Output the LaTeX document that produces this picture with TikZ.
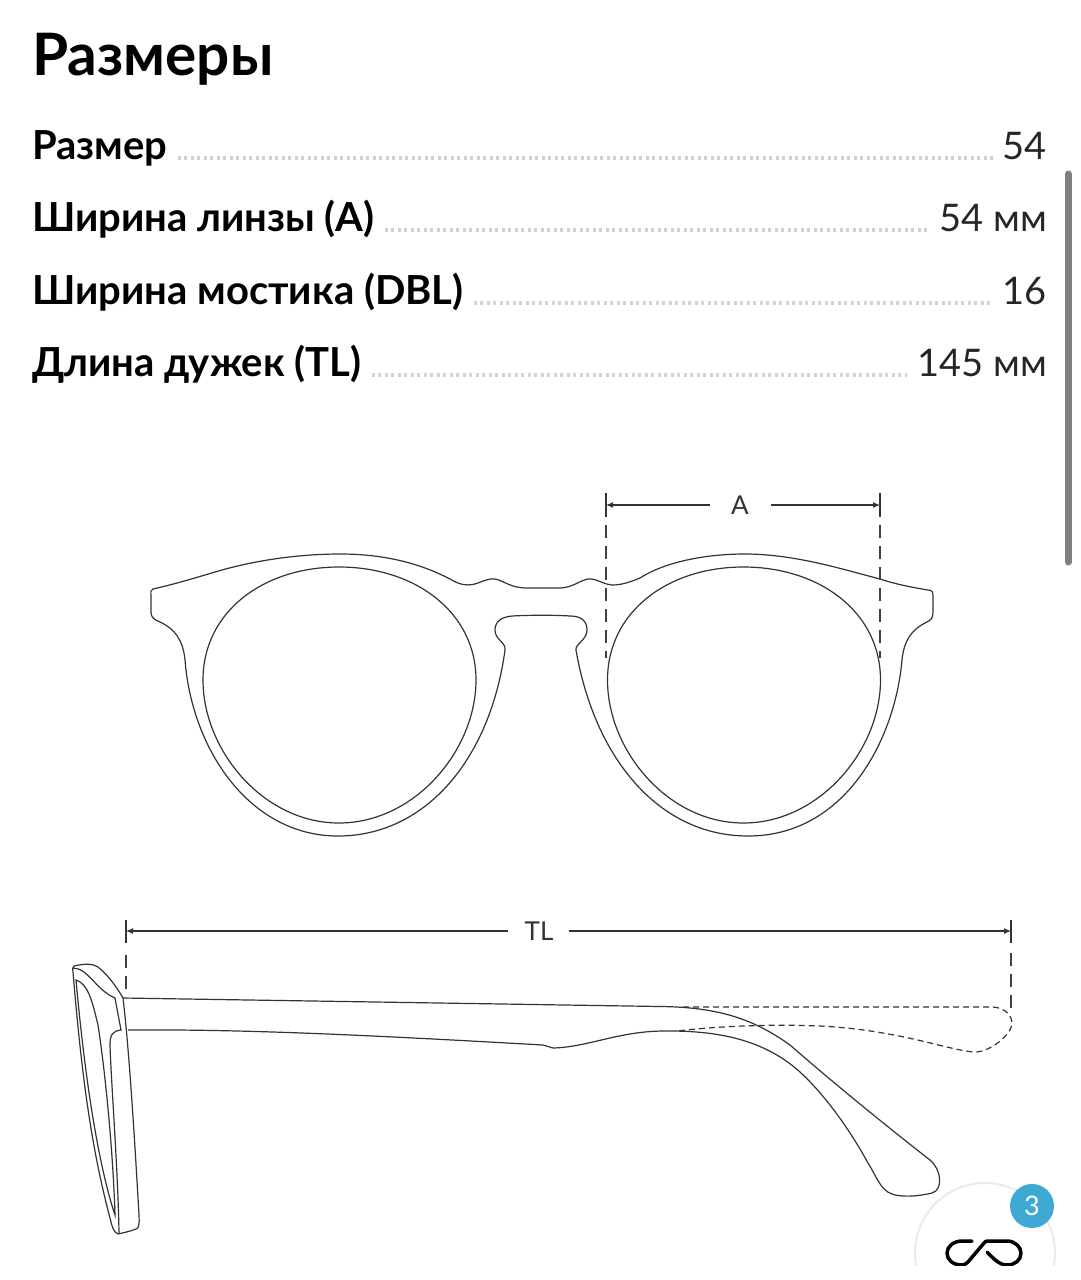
\documentclass[tikz,border=0pt]{standalone}
\usepackage{fontspec}
\setmainfont{Lato}
\newfontfamily\boldfont{Lato Bold}
\usetikzlibrary{arrows.meta}
\definecolor{badgeblue}{HTML}{3FA9D5}
\tikzset{
	outline/.style={draw=black!80,line width=1.2pt},
	dimline/.style={draw=black!80,line width=1.1pt},
	dimdash/.style={draw=black!75,line width=1.1pt,dash pattern=on 13pt off 8pt},
	dimarrow/.style={dimline,-{Latex[length=7pt,width=6pt]}},
	dimlabel/.style={font=\fontsize{26}{30}\selectfont,text=black!80,inner sep=0pt},
	rowkey/.style={anchor=base west,inner sep=0pt,font=\boldfont\fontsize{40}{46}\selectfont},
	rowval/.style={anchor=base east,inner sep=0pt,text=black!85,font=\fontsize{38}{44}\selectfont},
	leader/.style={draw=black!18,line width=3.5pt,dash pattern=on 3pt off 3.5pt}
}
\begin{document}
\begin{tikzpicture}[x=1pt,y=-1pt]
	\useasboundingbox (0,0) rectangle (1080,1280);
	\fill[white] (0,0) rectangle (1080,1280);
	% table
	\node[anchor=base west,inner sep=0pt,font=\boldfont\fontsize{58.5}{66}\selectfont] (title) at (32,75) {Размеры};
	\node[rowkey] (sizekey) at (32,159) {Размер};
	\node[rowval] (sizeval) at (1047,159) {54};
	\node[rowkey] (lenskey) at (32,231) {Ширина линзы (A)};
	\node[rowval] (lensval) at (1047,231) {54 мм};
	\node[rowkey] (bridgekey) at (32,304) {Ширина мостика (DBL)};
	\node[rowval] (bridgeval) at (1047,304) {16};
	\node[rowkey] (templekey) at (32,376) {Длина дужек (TL)};
	\node[rowval] (templeval) at (1047,376) {145 мм};
	\foreach \rowname in {size,lens,bridge,temple}
		\draw[leader] ([xshift=10pt,yshift=1pt]\rowname key.base east) -- ([xshift=-10pt,yshift=1pt]\rowname val.base west);
	% scrollbar
	\draw[line width=7pt,line cap=round,black!50] (1068,174) -- (1068,562);
	% front view
	\draw[outline] (153,589) .. controls (175,584) and (195,578) .. (215,572)
		.. controls (255,560) and (300,554) .. (340,554)
		.. controls (390,554) and (425,566) .. (450,579)
		.. controls (460,585) and (466,585.5) .. (473,584.5)
		.. controls (480,583) and (487,578) .. (495,579)
		.. controls (505,581) and (510,588) .. (527,588)
		-- (558,588)
		.. controls (573,588) and (578,581) .. (588,579)
		.. controls (596,578) and (602,584) .. (612,585)
		.. controls (622,585) and (630,582) .. (640,578)
		.. controls (665,562) and (705,554) .. (745,554)
		.. controls (795,554) and (845,570) .. (880,579)
		.. controls (895,584) and (910,587) .. (928,590)
		.. controls (932,590) and (933,592) .. (933,596)
		-- (933,612)
		.. controls (933,618) and (931,620) .. (927,622)
		.. controls (912,629) and (904,640) .. (902,660)
		.. controls (895,740) and (845,836) .. (748,836)
		.. controls (660,836) and (595,760) .. (576,650)
		.. controls (575,644) and (587,640) .. (587,630)
		.. controls (587,620) and (580,616) .. (570,616)
		.. controls (555,615) and (530,615) .. (512,616)
		.. controls (502,617) and (495,621) .. (495,630)
		.. controls (495,640) and (506,642) .. (505,650)
		.. controls (490,760) and (425,836) .. (338,836)
		.. controls (250,836) and (192,750) .. (185,660)
		.. controls (183,640) and (175,629) .. (160,622)
		.. controls (153,619) and (151,617) .. (151,612)
		-- (151,596)
		.. controls (151,592) and (150,590) .. (153,589) -- cycle;
	\foreach \lensx in {0,404.5}
		\draw[outline,xshift=\lensx] (339,567) .. controls (415,567) and (476,612) .. (476,680)
			.. controls (476,750) and (415,823) .. (339,823)
			.. controls (263,823) and (203,750) .. (203,680)
			.. controls (203,612) and (263,567) .. (339,567) -- cycle;
	% dimension A
	\node[dimlabel] (labela) at (740,505) {A};
	\coordinate (atopl) at (606,493);
	\coordinate (atopr) at (880,493);
	\coordinate (amidl) at (606,505);
	\coordinate (amidr) at (880,505);
	\draw[dimline] (atopl) -- ++(0,24);
	\draw[dimline] (atopr) -- ++(0,24);
	\draw[dimdash] (606,525) -- (606,658);
	\draw[dimdash] (880,525) -- (880,658);
	\draw[dimarrow] ([xshift=-30pt]labela.center) -- (amidl);
	\draw[dimarrow] ([xshift=31pt]labela.center) -- (amidr);
	% side view
	\draw[outline] (123,998) .. controls (128,1040) and (133,1110) .. (139,1215)
		.. controls (139.5,1225) and (139,1228) .. (136,1229)
		.. controls (128,1232) and (122,1233) .. (118,1234)
		.. controls (113,1232) and (112,1226) .. (110,1218)
		.. controls (92,1150) and (82,1080) .. (73,972)
		.. controls (72,968) and (73,966) .. (76,965.5)
		.. controls (84,964) and (92,963) .. (98,967)
		.. controls (108,975) and (116,986) .. (123,998) -- cycle;
	\draw[outline] (73,968) .. controls (88,968) and (96,990) .. (115,998)
		-- (121,1030)
		.. controls (113,1031) and (110,1034) .. (110,1045)
		.. controls (111,1080) and (118,1170) .. (119,1233);
	\draw[outline] (76,980) .. controls (88,984) and (92,1000) .. (98,1025)
		.. controls (105,1070) and (113,1150) .. (115,1215)
		.. controls (100,1170) and (86,1090) .. (76,980) -- cycle;
	% temple
	\draw[outline] (123,998) -- (660,1006.5)
		.. controls (720,1007) and (755,1020) .. (790,1045)
		.. controls (830,1080) and (885,1125) .. (930,1160)
		.. controls (942,1170) and (943,1190) .. (932,1193)
		.. controls (915,1197) and (900,1197) .. (892,1194)
		.. controls (880,1190) and (876,1175) .. (868,1163)
		.. controls (850,1130) and (825,1095) .. (800,1072)
		.. controls (770,1045) and (730,1031) .. (670,1031)
		.. controls (620,1030) and (590,1047) .. (553,1048)
		-- (543,1045)
		.. controls (383,1036) and (250,1029) .. (128,1030);
	\draw[outline,dash pattern=on 6pt off 4pt] (683,1007) -- (993,1007)
		.. controls (1005,1008) and (1012,1015) .. (1012,1024)
		.. controls (1011,1035) and (990,1052) .. (975,1052)
		.. controls (950,1051) and (900,1030) .. (820,1026)
		.. controls (770,1024) and (720,1026) .. (677,1031);
	% dimension TL
	\node[dimlabel] (labeltl) at (539,931) {TL};
	\coordinate (tltopl) at (126,920);
	\coordinate (tltopr) at (1011,920);
	\coordinate (tlmidl) at (126,931);
	\coordinate (tlmidr) at (1011,931);
	\draw[dimline] (tltopl) -- ++(0,23);
	\draw[dimline] (tltopr) -- ++(0,23);
	\draw[dimdash] (126,955) -- (126,990);
	\draw[dimdash] (1011,953) -- (1011,1012);
	\draw[dimarrow] ([xshift=-31pt]labeltl.center) -- (tlmidl);
	\draw[dimarrow] ([xshift=30pt]labeltl.center) -- (tlmidr);
	% fitting button
	\begin{scope}
		\clip (0,0) rectangle (1080,1265);
		\draw[black!8,fill=white,line width=2pt] (985,1253) circle (70);
		\draw[black,line width=3.5pt,line cap=round,line join=round] (972,1241) -- (962,1241)
			.. controls (953,1241) and (947,1247) .. (947,1253)
			.. controls (947,1260) and (953,1265) .. (962,1265)
			.. controls (964,1265) and (966,1264) .. (968,1262)
			-- (984,1243) .. controls (985,1241.5) and (986,1241) .. (988,1241)
			-- (1007,1241)
			.. controls (1015,1241) and (1021,1247) .. (1021,1253)
			.. controls (1021,1260) and (1015,1265) .. (1007,1265)
			.. controls (999,1265) and (993,1258) .. (987,1252);
	\end{scope}
	\node[circle,fill=badgeblue,minimum size=44pt,inner sep=0pt,text=white,font=\fontsize{27}{30}\selectfont] (badge) at (1032,1206) {3};
\end{tikzpicture}
\end{document}
